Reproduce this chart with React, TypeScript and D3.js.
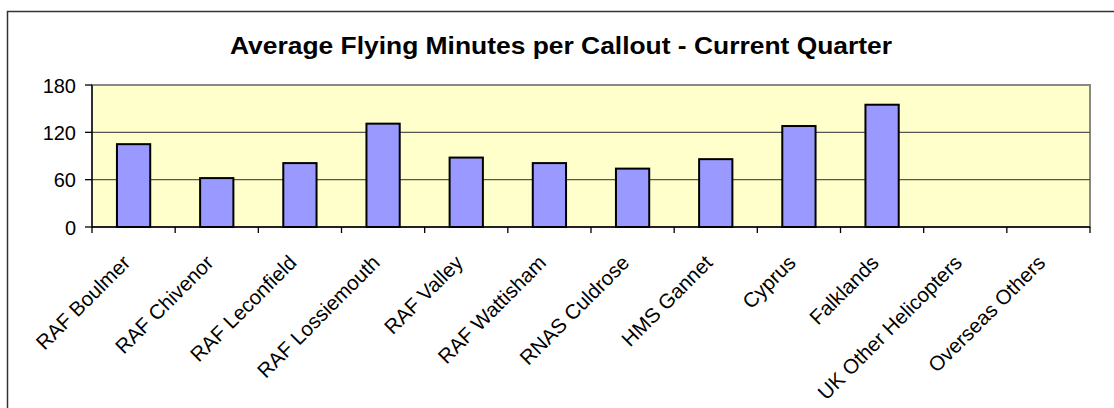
import * as d3 from 'd3';
import {useEffect, useRef} from 'react';

const categories = [
  'RAF Boulmer', 'RAF Chivenor', 'RAF Leconfield', 'RAF Lossiemouth', 'RAF Valley', 'RAF Wattisham',
  'RNAS Culdrose', 'HMS Gannet', 'Cyprus', 'Falklands', 'UK Other Helicopters', 'Overseas Others'
];
const minutes = [105, 62, 81, 131, 88, 81, 74, 86, 128, 155, 0, 0];
const yTicks = [0, 60, 120, 180];
const title = 'Average Flying Minutes per Callout - Current Quarter';

export default function App() {
  const ref = useRef<SVGSVGElement | null>(null);

  useEffect(() => {
    const svg = d3.select(ref.current);
    svg.selectAll('*').remove();

    const W = 1114, H = 408;
    const plot = {left: 92, top: 85, right: 1090, bottom: 227};
    const font = '"Liberation Sans", Arial, Helvetica, sans-serif';

    // outer chart border (runs off the right and bottom edges)
    svg.append('rect')
      .attr('x', 7.5).attr('y', 11.5).attr('width', W).attr('height', H)
      .attr('fill', '#fff').attr('stroke', '#333').attr('stroke-width', 1.5);

    svg.append('text')
      .attr('x', 561).attr('y', 54)
      .attr('text-anchor', 'middle')
      .attr('font-family', font).attr('font-weight', 'bold').attr('font-size', 24)
      .attr('textLength', 662).attr('lengthAdjust', 'spacingAndGlyphs')
      .attr('fill', '#000')
      .text(title);

    const x = d3.scaleBand().domain(categories).range([plot.left, plot.right]).paddingInner(0).paddingOuter(0);
    const y = d3.scaleLinear().domain([0, 180]).range([plot.bottom, plot.top]);
    const barW = x.bandwidth() / 2.5;

    const g = svg.append('g');

    g.append('rect')
      .attr('x', plot.left).attr('y', plot.top)
      .attr('width', plot.right - plot.left).attr('height', plot.bottom - plot.top)
      .attr('fill', '#FFFFCC').attr('stroke', '#888').attr('stroke-width', 2);

    // gridlines
    g.selectAll('line.grid')
      .data(yTicks.filter(t => t > 0 && t < 180))
      .enter().append('line')
      .attr('class', 'grid')
      .attr('x1', plot.left).attr('x2', plot.right)
      .attr('y1', d => y(d)).attr('y2', d => y(d))
      .attr('stroke', '#555').attr('stroke-width', 1.3);

    g.selectAll('rect.bar')
      .data(minutes.map((v, i) => ({v, c: categories[i]})).filter(d => d.v > 0))
      .enter().append('rect')
      .attr('class', 'bar')
      .attr('x', d => (x(d.c) as number) + (x.bandwidth() - barW) / 2)
      .attr('y', d => y(d.v))
      .attr('width', barW)
      .attr('height', d => y(0) - y(d.v))
      .attr('fill', '#9999FF').attr('stroke', '#000').attr('stroke-width', 2);

    // y axis
    g.append('line')
      .attr('x1', plot.left).attr('x2', plot.left).attr('y1', plot.top).attr('y2', plot.bottom)
      .attr('stroke', '#000').attr('stroke-width', 1.3);
    g.selectAll('line.ytick')
      .data(yTicks).enter().append('line')
      .attr('class', 'ytick')
      .attr('x1', plot.left - 7).attr('x2', plot.left)
      .attr('y1', d => y(d)).attr('y2', d => y(d))
      .attr('stroke', '#000').attr('stroke-width', 1.3);
    g.selectAll('text.ylab')
      .data(yTicks).enter().append('text')
      .attr('class', 'ylab')
      .attr('x', 76).attr('y', d => y(d) + 7.5)
      .attr('text-anchor', 'end')
      .attr('font-family', font).attr('font-size', 20)
      .text(d => d);

    // x axis
    g.append('line')
      .attr('x1', plot.left).attr('x2', plot.right).attr('y1', plot.bottom).attr('y2', plot.bottom)
      .attr('stroke', '#000').attr('stroke-width', 1.5);
    g.selectAll('line.xtick')
      .data(d3.range(categories.length + 1)).enter().append('line')
      .attr('class', 'xtick')
      .attr('x1', i => plot.left + i * x.bandwidth()).attr('x2', i => plot.left + i * x.bandwidth())
      .attr('y1', plot.bottom).attr('y2', plot.bottom + 6)
      .attr('stroke', '#000').attr('stroke-width', 1.3);
    g.selectAll('text.xlab')
      .data(categories).enter().append('text')
      .attr('class', 'xlab')
      .attr('text-anchor', 'end')
      .attr('transform', d => `translate(${(x(d) as number) + x.bandwidth() / 2 - 2}, ${plot.bottom + 37}) rotate(-45)`)
      .attr('font-family', font).attr('font-size', 20.5)
      .text(d => d);
  }, []);

  return (
    <svg ref={ref} width={1114} height={408}
      style={{position: 'absolute', left: 0, top: 0, background: '#fff'}} />
  );
}
